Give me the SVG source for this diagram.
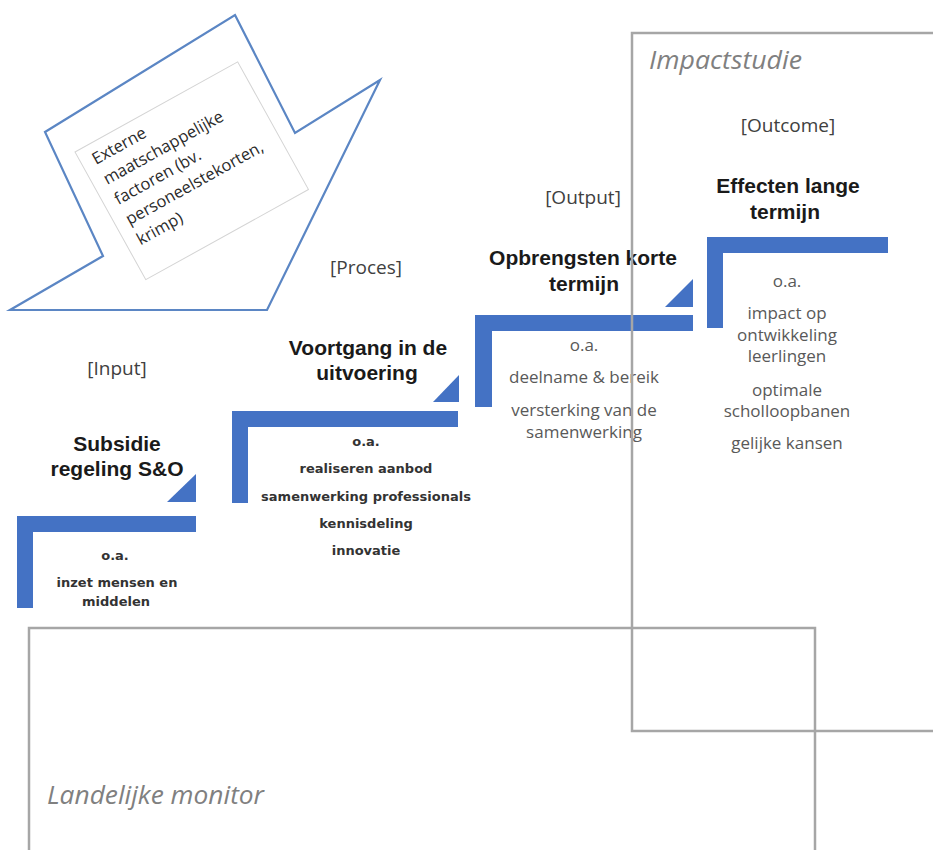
<svg xmlns="http://www.w3.org/2000/svg" width="933" height="850" viewBox="0 0 933 850">
<style>
.blue{fill:#4472c4}
.frame{fill:none;stroke:#a6a6a6;stroke-width:2.5}
.title{font-family:"Liberation Sans",Arial,sans-serif;font-weight:bold;font-size:21px;fill:#1a1a1a;text-anchor:middle}
.bodyb{font-family:"DejaVu Sans",sans-serif;font-weight:bold;font-size:13px;fill:#333;text-anchor:middle}
.body{font-family:"Open Sans",sans-serif;font-size:17px;fill:#595959;text-anchor:middle}
.phase{font-family:"Open Sans",sans-serif;font-size:19px;fill:#404040;text-anchor:middle}
.study{font-family:"Open Sans",sans-serif;font-style:italic;font-size:25px;fill:#808080}
.ext{font-family:"Open Sans",sans-serif;font-size:16.5px;fill:#2a2a2a}
</style>
<rect width="933" height="850" fill="#fff"/>

<g id="external-factors">
<polygon points="235,15 295,133 380,80 267,310 10,310 103,256 45,132" fill="#fff" stroke="#5b86c4" stroke-width="2.2" stroke-linejoin="miter"/>
<rect x="0" y="0" width="186" height="146" transform="translate(75,152) rotate(-29)" fill="none" stroke="#d4d4d4" stroke-width="1"/>
<g transform="translate(96,165) rotate(-29)">
<text class="ext" x="0" y="0">Externe</text>
<text class="ext" x="0" y="23">maatschappelijke</text>
<text class="ext" x="0" y="46">factoren (bv.</text>
<text class="ext" x="0" y="69">personeelstekorten,</text>
<text class="ext" x="0" y="92">krimp)</text>
</g>
</g>

<g id="step-input">
<text class="phase" x="117" y="375">[Input]</text>
<text class="title" x="117" y="451">Subsidie</text>
<text class="title" x="117" y="476">regeling S&amp;O</text>
<polygon class="blue" points="167,502 196,502 196,474"/>
<path class="blue" d="M17,516 H196 V532 H33 V608 H17 Z"/>
<text class="bodyb" x="115" y="560">o.a.</text>
<text class="bodyb" x="117" y="587">inzet mensen en</text>
<text class="bodyb" x="116" y="606">middelen</text>
</g>

<g id="step-proces">
<text class="phase" x="366" y="274">[Proces]</text>
<text class="title" x="368" y="355">Voortgang in de</text>
<text class="title" x="367" y="380">uitvoering</text>
<polygon class="blue" points="433,402 459,402 459,375"/>
<path class="blue" d="M232,411 H458 V427 H248 V503 H232 Z"/>
<text class="bodyb" x="366" y="446">o.a.</text>
<text class="bodyb" x="366" y="473">realiseren aanbod</text>
<text class="bodyb" x="366" y="501">samenwerking professionals</text>
<text class="bodyb" x="366" y="528">kennisdeling</text>
<text class="bodyb" x="366" y="555">innovatie</text>
</g>

<g id="step-output">
<text class="phase" x="583" y="204">[Output]</text>
<text class="title" x="583" y="265">Opbrengsten korte</text>
<text class="title" x="584" y="291">termijn</text>
<polygon class="blue" points="665,307 693,307 693,279"/>
<path class="blue" d="M475,315 H693 V331 H492 V407 H475 Z"/>
<text class="body" x="584" y="351">o.a.</text>
<text class="body" x="584" y="383">deelname &amp; bereik</text>
<text class="body" x="584" y="416">versterking van de</text>
<text class="body" x="584" y="438">samenwerking</text>
</g>

<g id="step-outcome">
<text class="phase" x="788" y="132">[Outcome]</text>
<text class="title" x="788" y="193">Effecten lange</text>
<text class="title" x="785" y="219">termijn</text>
<path class="blue" d="M707,237 H888 V253 H723 V328 H707 Z"/>
<text class="body" x="787" y="287">o.a.</text>
<text class="body" x="787" y="319">impact op</text>
<text class="body" x="787" y="341">ontwikkeling</text>
<text class="body" x="787" y="362">leerlingen</text>
<text class="body" x="787" y="396">optimale</text>
<text class="body" x="787" y="417">scholloopbanen</text>
<text class="body" x="787" y="449">gelijke kansen</text>
</g>

<g id="connectors"></g>

<g id="impactstudie">
<path class="frame" d="M940,33 H632 V731 H940"/>
<text class="study" x="649" y="69" textLength="153" lengthAdjust="spacingAndGlyphs">Impactstudie</text>
</g>

<g id="landelijke-monitor">
<path class="frame" d="M29,860 V628 H815 V860"/>
<text class="study" x="47" y="804" textLength="217" lengthAdjust="spacingAndGlyphs">Landelijke monitor</text>
</g>
</svg>
